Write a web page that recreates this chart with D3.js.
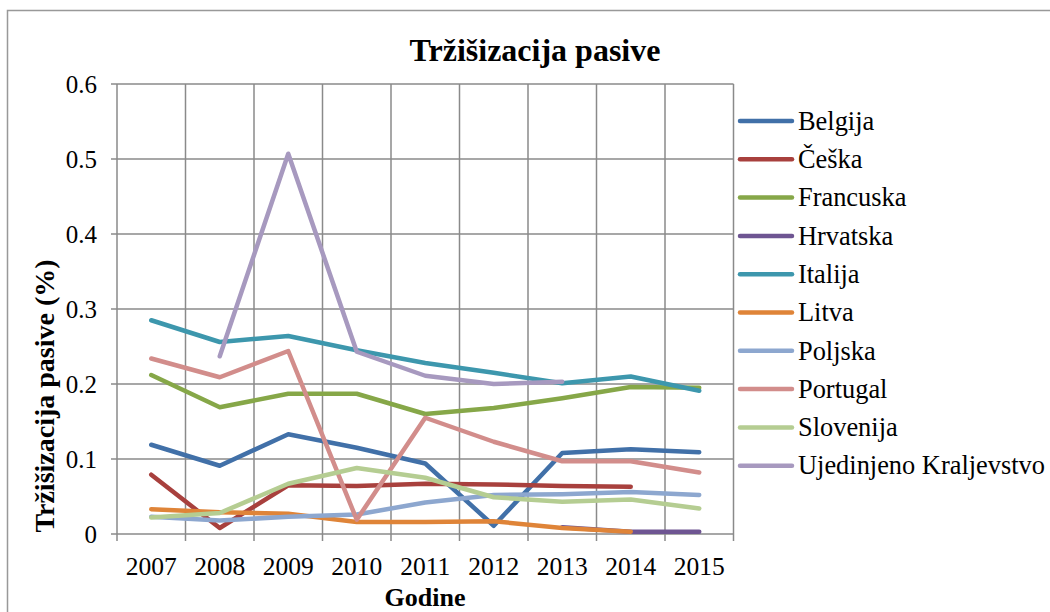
<!DOCTYPE html>
<html><head><meta charset="utf-8">
<script src="https://cdn.jsdelivr.net/npm/d3@7"></script>
<style>body{margin:0;background:#fff}svg{display:block}</style>
</head><body>
<script>
const years = ["2007","2008","2009","2010","2011","2012","2013","2014","2015"];
const yTicks = [0,0.1,0.2,0.3,0.4,0.5,0.6];
const countries = ["Belgija","Češka","Francuska","Hrvatska","Italija","Litva","Poljska","Portugal","Slovenija","Ujedinjeno Kraljevstvo"];
const colors = ["#4170A8","#A8403D","#86A748","#6E5592","#3D97AD","#DF8438","#8DA7CF","#D28D8B","#B5CD92","#A799BF"];
const belgija   = [0.119,0.091,0.133,0.115,0.094,0.011,0.108,0.113,0.109];
const ceska     = [0.079,0.008,0.065,0.064,0.067,0.066,0.064,0.063,null];
const francuska = [0.212,0.169,0.187,0.187,0.160,0.168,0.181,0.196,0.195];
const hrvatska  = [null,null,null,null,null,null,0.009,0.003,0.003];
const italija   = [0.285,0.256,0.264,0.245,0.228,0.215,0.201,0.210,0.191];
const litva     = [0.033,0.029,0.027,0.016,0.016,0.017,0.008,0.003,null];
const poljska   = [0.023,0.018,0.023,0.026,0.042,0.052,0.053,0.056,0.052];
const portugal  = [0.234,0.209,0.244,0.019,0.155,0.123,0.097,0.097,0.082];
const slovenija = [0.022,0.028,0.067,0.088,0.075,0.049,0.043,0.046,0.034];
const uk        = [null,0.237,0.507,0.243,0.211,0.200,0.203,null,null];
const seriesValues = [belgija,ceska,francuska,hrvatska,italija,litva,poljska,portugal,slovenija,uk];

const FONT="'Liberation Serif', 'Times New Roman', Times, serif";
const W=1050,H=612;
const svg=d3.select("body").append("svg").attr("width",W).attr("height",H)
  .attr("font-family",FONT);
svg.append("rect").attr("x",7.5).attr("y",10.5).attr("width",1100).attr("height",700)
  .attr("fill","#fff").attr("stroke","#999").attr("stroke-width",1.5);

const L=117,R=733.5,T=84,B=534;
const x=d3.scaleBand().domain(years).range([L,R]);
const y=d3.scaleLinear().domain([0,0.6]).range([B,T]);
const gridColor="#8a8a8a";
const g=svg.append("g");
g.selectAll(".hg").data(yTicks).join("line")
  .attr("x1",L).attr("x2",R).attr("y1",d=>y(d)).attr("y2",d=>y(d))
  .attr("stroke",gridColor).attr("stroke-width",1.5);
const bounds=years.map(d=>x(d)).concat([x(years[years.length-1])+x.bandwidth()]);
g.selectAll(".vg").data(bounds).join("line")
  .attr("x1",d=>d).attr("x2",d=>d).attr("y1",T).attr("y2",B+7)
  .attr("stroke",gridColor).attr("stroke-width",1.5);
g.selectAll(".yt").data(yTicks).join("line")
  .attr("x1",L-6).attr("x2",L).attr("y1",d=>y(d)).attr("y2",d=>y(d))
  .attr("stroke",gridColor).attr("stroke-width",1.5);
g.selectAll(".yl").data(yTicks).join("text")
  .attr("font-family",FONT)
  .attr("x",L-20).attr("y",d=>y(d)).attr("dy","0.35em").attr("text-anchor","end")
  .attr("font-size",25).text(d=>d===0?"0":d3.format(".1f")(d));
g.selectAll(".xl").data(years).join("text")
  .attr("font-family",FONT)
  .attr("x",d=>x(d)+x.bandwidth()/2).attr("y",575).attr("text-anchor","middle")
  .attr("font-size",25.5).text(d=>d);

const line=d3.line().defined(d=>d!=null).x((d,i)=>x(years[i])+x.bandwidth()/2).y(d=>y(d));
svg.append("g").selectAll("path").data(seriesValues).join("path")
  .attr("d",d=>line(d)).attr("fill","none").attr("stroke",(d,i)=>colors[i])
  .attr("stroke-width",4.5).attr("stroke-linejoin","round").attr("stroke-linecap","round");

svg.append("text").attr("font-family",FONT).attr("x",535).attr("y",61).attr("text-anchor","middle")
  .attr("font-size",32).attr("font-weight","bold").text("Tržišizacija pasive");
svg.append("text").attr("font-family",FONT).attr("x",425).attr("y",606).attr("text-anchor","middle")
  .attr("font-size",26).attr("font-weight","bold").text("Godine");
svg.append("text").attr("font-family",FONT).attr("transform","translate(54,396) rotate(-90)").attr("text-anchor","middle")
  .attr("font-size",28).attr("font-weight","bold").text("Tržišizacija pasive (%)");

const lg=svg.append("g");
const items=lg.selectAll("g").data(countries).join("g")
  .attr("transform",(d,i)=>`translate(0,${121+i*38.3})`);
items.append("line").attr("x1",740).attr("x2",792).attr("y1",0).attr("y2",0)
  .attr("stroke",(d,i)=>colors[i]).attr("stroke-width",4.5).attr("stroke-linecap","round");
items.append("text").attr("font-family",FONT).attr("x",798).attr("y",0).attr("dy","0.33em").attr("font-size",26.4).text(d=>d);
</script>
</body></html>
